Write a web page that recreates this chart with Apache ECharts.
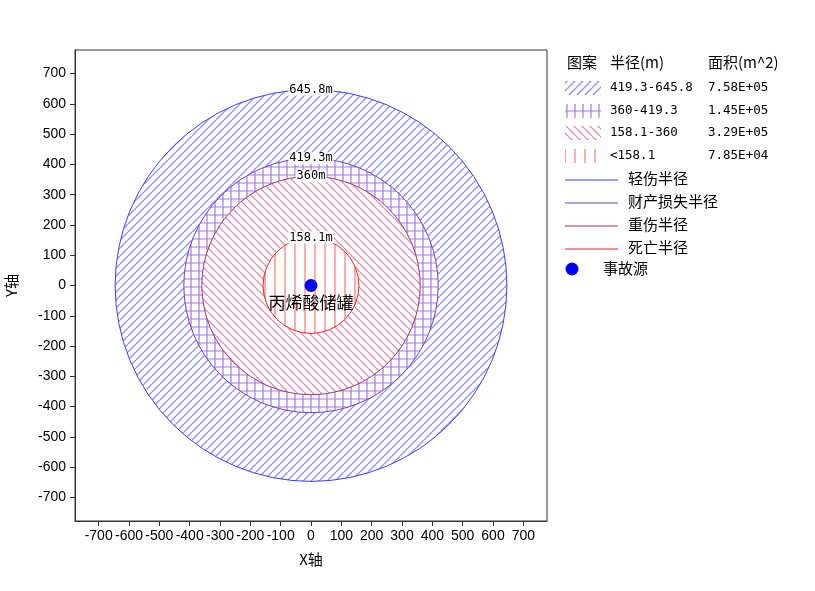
<!DOCTYPE html>
<html>
<head>
<meta charset="utf-8">
<title>事故影响范围</title>
<script src="https://cdn.jsdelivr.net/npm/echarts@6/dist/echarts.min.js"></script>
<style>
	html, body { margin: 0; padding: 0; background: #fff; }
	#main { width: 815px; height: 591px; }
</style>
</head>
<body>
<div id="main"></div>
<script type="text/javascript">
	var radii = [645.8, 419.3, 360, 158.1];
	var radiusLabels = ['645.8m', '419.3m', '360m', '158.1m'];
	var rangeLabels = ['419.3-645.8', '360-419.3', '158.1-360', '<158.1'];
	var areaLabels = ['7.58E+05', '1.45E+05', '3.29E+05', '7.85E+04'];
	var lineNames = ['轻伤半径', '财产损失半径', '重伤半径', '死亡半径'];
	var legendHead = ['图案', '半径(m)', '面积(m^2)'];
	var sourceName = '事故源';
	var tankName = '丙烯酸储罐';
	var sourcePoint = [0, 0];
	var axisTicks = [-700, -600, -500, -400, -300, -200, -100, 0, 100, 200, 300, 400, 500, 600, 700];

	var ringColors = ['#3d3dff', '#7040c0', '#a83068', '#ff2020'];
	var hatchColors = ['#9898ff', '#a678e6', '#e092b8', '#ff8080'];
	var hatchKinds = ['slash', 'grid', 'backslash', 'vertical'];
	var hatchSizes = [8, 8, 8, 10];
	var hatchWidths = [1.5, 1.2, 1.4, 1.3];

	function makePattern(kind, color, s, w) {
		var c = document.createElement('canvas');
		c.width = s; c.height = s;
		var g = c.getContext('2d');
		g.fillStyle = '#fff';
		g.fillRect(0, 0, s, s);
		g.strokeStyle = color;
		g.lineWidth = w;
		g.beginPath();
		if (kind === 'slash') {
			for (var k = -1; k <= 1; k++) { g.moveTo(k * s, s); g.lineTo(k * s + s, 0); }
		} else if (kind === 'backslash') {
			for (var k = -1; k <= 1; k++) { g.moveTo(k * s, 0); g.lineTo(k * s + s, s); }
		} else if (kind === 'grid') {
			g.moveTo(0, s - 1); g.lineTo(s, s - 1);
			g.moveTo(s - 1, 0); g.lineTo(s - 1, s);
		} else {
			g.moveTo(s / 2, 0); g.lineTo(s / 2, s);
		}
		g.stroke();
		return { image: c, repeat: 'repeat' };
	}
	var patterns = hatchKinds.map(function (k, i) { return makePattern(k, hatchColors[i], hatchSizes[i], hatchWidths[i]); });

	var cjk = '"Noto Sans CJK SC", sans-serif';
	var mono = '"DejaVu Sans Mono", monospace';

	// legend drawn by hand (three columns)
	var legend = [];
	legend.push({ type: 'text', left: 567, top: 55, style: { text: legendHead[0], font: '15px ' + cjk, fill: '#000' } });
	legend.push({ type: 'text', left: 610, top: 55, style: { text: legendHead[1], font: '15px ' + cjk, fill: '#000' } });
	legend.push({ type: 'text', left: 708, top: 55, style: { text: legendHead[2], font: '15px ' + cjk, fill: '#000' } });
	var rowY = [88, 111, 133, 156];
	for (var i = 0; i < rangeLabels.length; i++) {
		legend.push({ type: 'rect', shape: { x: 565, y: rowY[i] - 7, width: 36, height: 14 }, style: { fill: patterns[i], stroke: null } });
		legend.push({ type: 'text', x: 610, y: rowY[i], style: { text: rangeLabels[i], font: '12.5px ' + mono, fill: '#000', verticalAlign: 'middle' } });
		legend.push({ type: 'text', x: 708, y: rowY[i], style: { text: areaLabels[i], font: '12.5px ' + mono, fill: '#000', verticalAlign: 'middle' } });
	}
	var lineY = [180, 203, 226, 249];
	for (var j = 0; j < lineNames.length; j++) {
		legend.push({ type: 'line', shape: { x1: 565, y1: lineY[j], x2: 618, y2: lineY[j] }, style: { stroke: ringColors[j], lineWidth: 1.2 } });
		legend.push({ type: 'text', x: 628, y: lineY[j] - 2, style: { text: lineNames[j], font: '15px ' + cjk, fill: '#000', verticalAlign: 'middle' } });
	}
	legend.push({ type: 'circle', shape: { cx: 572, cy: 269, r: 6.5 }, style: { fill: '#0000ff' } });
	legend.push({ type: 'text', x: 603, y: 268, style: { text: sourceName, font: '15px ' + cjk, fill: '#000', verticalAlign: 'middle' } });

	var option = {
		animation: false,
		backgroundColor: '#fff',
		grid: { left: 75, right: 268, top: 50, bottom: 70, outerBoundsMode: 'none', containLabel: false,
			show: true, borderColor: '#333', borderWidth: 1, backgroundColor: '#fff' },
		xAxis: {
			type: 'value', min: -778, max: 778,
			name: 'X轴', nameLocation: 'middle', nameGap: 31, nameMoveOverlap: false,
			nameTextStyle: { color: '#000', fontSize: 15, fontFamily: cjk },
			axisLine: { show: true, onZero: false, lineStyle: { color: '#333' } },
			axisTick: { show: true, customValues: axisTicks, length: 5, lineStyle: { color: '#333' } },
			axisLabel: { customValues: axisTicks, hideOverlap: false,
				color: '#000', fontSize: 14, margin: 8, fontFamily: 'Liberation Sans' },
			splitLine: { show: false }
		},
		yAxis: {
			type: 'value', min: -778, max: 778,
			name: 'Y轴', nameLocation: 'middle', nameGap: 56, nameMoveOverlap: false,
			nameTextStyle: { color: '#000', fontSize: 15, fontFamily: cjk },
			axisLine: { show: true, onZero: false, lineStyle: { color: '#333' } },
			axisTick: { show: true, customValues: axisTicks, length: 5, lineStyle: { color: '#333' } },
			axisLabel: { customValues: axisTicks, hideOverlap: false,
				color: '#000', fontSize: 14, margin: 9, fontFamily: 'Liberation Sans' },
			splitLine: { show: false }
		},
		graphic: legend,
		series: [{
			type: 'custom',
			coordinateSystem: 'cartesian2d',
			silent: true,
			z: 1,
			data: radii.map(function (r, i) { return [sourcePoint[0], sourcePoint[1], r, i]; }),
			encode: { x: 0, y: 1 },
			renderItem: function (params, api) {
				var c = api.coord([api.value(0), api.value(1)]);
				var r = api.size([api.value(2), 0])[0];
				var i = api.value(3);
				return { type: 'circle', shape: { cx: c[0], cy: c[1], r: r }, style: { fill: patterns[i], stroke: ringColors[i], lineWidth: 1 } };
			}
		}, {
			type: 'custom',
			coordinateSystem: 'cartesian2d',
			silent: true,
			z: 3,
			data: radii.map(function (r, i) { return [sourcePoint[0], sourcePoint[1], r, i]; }),
			encode: { x: 0, y: 1 },
			renderItem: function (params, api) {
				var c = api.coord([api.value(0), api.value(1)]);
				var r = api.size([api.value(2), 0])[0];
				var i = api.value(3);
				return { type: 'text', x: c[0], y: c[1] - r,
					style: { text: radiusLabels[i], font: '12px ' + mono, fill: '#000', align: 'center', verticalAlign: 'middle', backgroundColor: '#fff', padding: [0, 1] } };
			}
		}, {
			name: sourceName,
			type: 'scatter',
			z: 5,
			symbolSize: 13,
			itemStyle: { color: '#0000ff', opacity: 1 },
			data: [sourcePoint],
			label: { show: true, position: 'bottom', distance: 2, formatter: tankName, color: '#000', fontSize: 17, fontFamily: cjk }
		}]
	};

	var myChart = echarts.init(document.getElementById('main'));
	myChart.setOption(option);
</script>
</body>
</html>
